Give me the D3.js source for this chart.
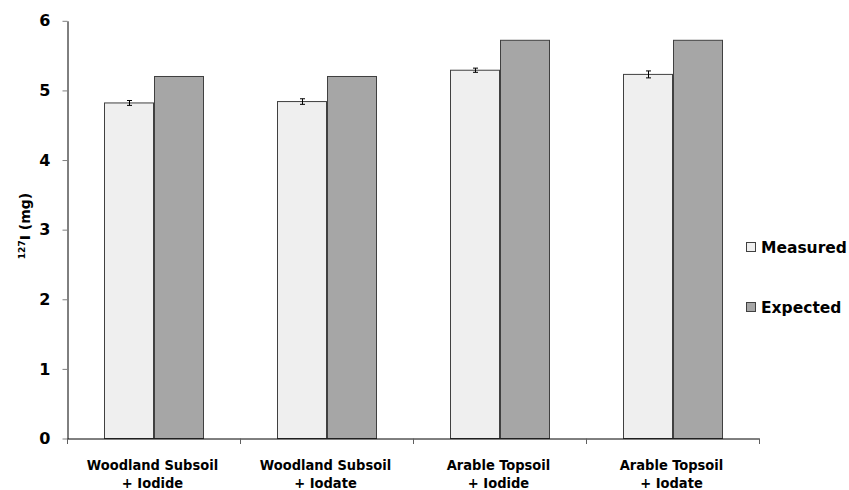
<!DOCTYPE html>
<html><head><meta charset="utf-8">
<script src="https://cdn.jsdelivr.net/npm/d3@7"></script>
<style>body{margin:0;background:#fff}svg{display:block}</style>
</head><body>
<svg id="c" width="849" height="490"></svg>
<script>
const categories = [["Woodland Subsoil","+ Iodide"],["Woodland Subsoil","+ Iodate"],["Arable Topsoil","+ Iodide"],["Arable Topsoil","+ Iodate"]];
const seriesNames = ["Measured","Expected"];
const measured = [4.82, 4.84, 5.29, 5.23];
const measuredErr = [0.035, 0.04, 0.03, 0.05];
const expected = [5.2, 5.2, 5.72, 5.72];
const yTicks = [0,1,2,3,4,5,6];
const colors = ["#efefef","#a6a6a6"];

const svg = d3.select("#c");
const x = d3.scaleBand().domain(d3.range(categories.length)).range([67, 759]).paddingInner(0).paddingOuter(0);
const x1 = d3.scaleBand().domain(seriesNames).range([0, x.bandwidth()]).paddingInner(0).paddingOuter(0.765);
const y = d3.scaleLinear().domain([0,6]).range([438.5, 20.8]);

// bars
const data = [measured, expected];
seriesNames.forEach((s, si) => {
  svg.append("g").selectAll("rect").data(data[si]).join("rect")
    .attr("x", (d,i) => Math.round(x(i) + x1(s)) + 0.5)
    .attr("y", d => y(d))
    .attr("width", Math.round(x1.bandwidth()))
    .attr("height", d => y(0) - y(d))
    .attr("fill", colors[si])
    .attr("stroke", "#404040")
    .attr("stroke-width", 1);
});

// error bars
const eg = svg.append("g").attr("stroke", "#000").attr("stroke-width", 1);
measured.forEach((v, i) => {
  const cx = Math.round(x(i) + x1("Measured") + x1.bandwidth()/2) + 0.5;
  eg.append("line").attr("x1", cx).attr("x2", cx).attr("y1", y(v - measuredErr[i])).attr("y2", y(v + measuredErr[i]));
  [v - measuredErr[i], v + measuredErr[i]].forEach(e => {
    eg.append("line").attr("x1", cx - 2.5).attr("x2", cx + 2.5).attr("y1", y(e)).attr("y2", y(e));
  });
});

// y axis
const ya = svg.append("g").attr("transform", "translate(67.5,0)")
  .call(d3.axisLeft(y).tickValues(yTicks).tickSize(5).tickSizeOuter(0).tickFormat(d3.format("d")));
ya.select(".domain").attr("stroke", "#000");
ya.selectAll(".tick line").attr("stroke", "#808080");
ya.selectAll("text").attr("font-family", "DejaVu Sans").attr("font-weight", "bold").attr("font-size", "16px").attr("fill", "#000").attr("x", -17);

// x axis
const xa = svg.append("g").attr("transform", "translate(0,438.5)")
  .call(d3.axisBottom(x).tickSize(0).tickFormat(""));
xa.select(".domain").attr("stroke", "#000");
xa.selectAll(".tick").remove();
const bounds = d3.range(categories.length + 1).map(i => i < categories.length ? x(i) : x.range()[1]);
svg.append("g").selectAll("line").data(bounds).join("line")
  .attr("x1", d => Math.round(d) + 0.5).attr("x2", d => Math.round(d) + 0.5)
  .attr("y1", 438.5).attr("y2", 444).attr("stroke", "#606060");

// x labels
const xl = svg.append("g").attr("font-family", "DejaVu Sans Condensed, DejaVu Sans").attr("font-weight", "bold").attr("font-size", "14.5px").attr("text-anchor", "middle");
categories.forEach((c, i) => {
  const t = xl.append("text").attr("y", 470);
  t.append("tspan").attr("x", x(i) + x.bandwidth()/2 - 1).text(c[0]);
  t.append("tspan").attr("x", x(i) + x.bandwidth()/2 - 1).attr("dy", 18).text(c[1]);
});

// y title
const yt = svg.append("text").attr("transform", "translate(30,226) rotate(-90)")
  .attr("text-anchor", "middle").attr("font-family", "DejaVu Sans").attr("font-weight", "bold").attr("font-size", "14px");
yt.append("tspan").attr("font-size", "9px").attr("dy", -5).text("127");
yt.append("tspan").attr("dy", 5).text("I (mg)");

// legend
const lg = svg.append("g");
seriesNames.forEach((s, i) => {
  const cy = 247 + i * 60;
  lg.append("rect").attr("x", 746.5).attr("y", cy - 4.5).attr("width", 9).attr("height", 9)
    .attr("fill", colors[i]).attr("stroke", "#404040");
  lg.append("text").attr("x", 761).attr("y", cy + 6).attr("font-family", "DejaVu Sans").attr("font-weight", "bold").attr("font-size", "15.5px").text(s);
});
</script>
</body></html>
